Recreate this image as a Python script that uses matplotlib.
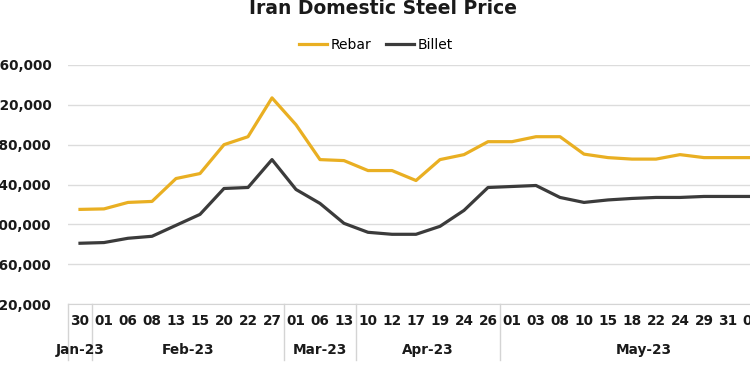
import matplotlib
matplotlib.use("Agg")
import matplotlib.pyplot as plt

days = ["30", "01", "06", "08", "13", "15", "20", "22", "27", "01", "06", "13",
        "10", "12", "17", "19", "24", "26", "01", "03", "08", "10", "15", "18",
        "22", "24", "29", "31", "05"]
rebar = [215000, 215500, 222000, 223000, 246000, 251000, 280000, 288000, 327000,
         300000, 265000, 264000, 254000, 254000, 244000, 265000, 270000, 283000,
         283000, 288000, 288000, 270500, 267000, 265500, 265500, 270000, 267000,
         267000, 267000]
billet = [181000, 181700, 186000, 188000, 199000, 210000, 236000, 237000, 265000,
          235000, 221000, 201000, 192000, 190000, 190000, 198000, 214000, 237000,
          238000, 239000, 227000, 222000, 224500, 226000, 227000, 227000, 228000,
          228000, 228000]
months = ["Jan-23", "Feb-23", "Mar-23", "Apr-23", "May-23"]
month_sizes = [1, 8, 3, 6, 12]
yticks = [120000, 160000, 200000, 240000, 280000, 320000, 360000]

plt.rcParams['font.family'] = ['DejaVu Sans']

fig = plt.figure(figsize=(7.5, 3.69), dpi=100)
ax = fig.add_axes([68 / 750, 65 / 369, 720 / 750, 239 / 369])

x = list(range(len(days)))
ax.plot(x, rebar, color="#E9AF22", lw=2.3, label="Rebar", solid_joinstyle="round")
ax.plot(x, billet, color="#3b3b3b", lw=2.3, label="Billet", solid_joinstyle="round")

ax.set_xlim(-0.5, sum(month_sizes) - 0.5)
ax.set_ylim(120000, 360000)
ax.set_yticks(yticks)
ax.set_yticklabels([f"{v:,}" for v in yticks], fontsize=9.8, fontweight="bold",
                   color="#1a1a1a")
ax.yaxis.grid(True, color="#dcdcdc", lw=1)
ax.set_axisbelow(True)
for s in ["top", "right", "left"]:
    ax.spines[s].set_visible(False)
ax.spines["bottom"].set_color("#d4d4d4")
ax.tick_params(axis="y", length=0, pad=12)
ax.tick_params(axis="x", length=0, pad=7)
ax.set_xticks(x)
ax.set_xticklabels(days, fontsize=9.8, fontweight="bold", color="#1a1a1a")

# month groups under the day labels
trans = ax.get_xaxis_transform()
start = 0
bounds = [-0.5]
for m, n in zip(months, month_sizes):
    center = start + (n - 1) / 2
    ax.text(center, -0.193, m, transform=trans, ha="center", va="center",
            fontsize=9.8, fontweight="bold", color="#1a1a1a")
    start += n
    bounds.append(start - 0.5)
for b in bounds:
    ax.plot([b, b], [0, -0.235], transform=trans, color="#d4d4d4", lw=1,
            clip_on=False)

fig.text(383 / 750, 1 - 14 / 369, "Iran Domestic Steel Price", ha="center",
         va="baseline", fontsize=13.5, fontweight="bold", color="#1a1a1a")
fig.text(712 / 750, 1 - 2 / 369, "SteelRadar", ha="center", va="bottom",
         fontsize=13, fontweight="bold", color="#dadada")

ax.legend(loc="center", bbox_to_anchor=(376 / 750, 1 - 45 / 369),
          bbox_transform=fig.transFigure, ncol=2, frameon=False, fontsize=10,
          handlelength=2.0, handletextpad=0.25, columnspacing=1.1)

fig.savefig("out.png", dpi=100)
